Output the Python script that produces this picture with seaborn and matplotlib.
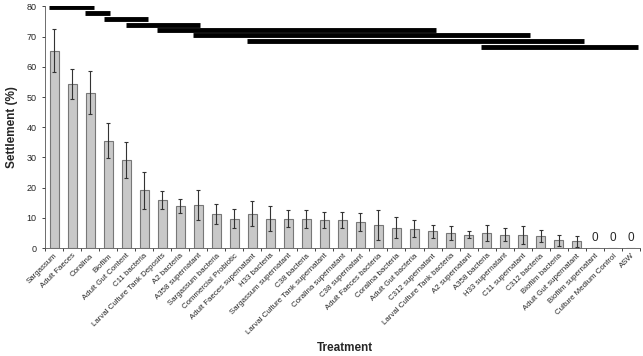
import numpy as np
import pandas as pd
import matplotlib
matplotlib.use("Agg")
import matplotlib.pyplot as plt
import seaborn as sns

# data
treatments = ["Sargassum", "Adult Faeces", "Coralina", "Biofilm", "Adult Gut Content",
              "C11 bacteria", "Larval Culture Tank Deposits", "A2 bacteria", "A358 supernatant",
              "Sargassum bacteria", "Commercial Probiotic", "Adult Faeces supernatant",
              "H33 bacteria", "Sargassum supernatant", "C38 bacteria",
              "Larval Culture Tank supernatant", "Coralina supernatant", "C38 supernatant",
              "Adult Faeces bacteria", "Coralina bacteria", "Adult Gut bacteria",
              "C312 supernatant", "Larval Culture Tank bacteria", "A2 supernatant",
              "A358 bacteria", "H33 supernatant", "C11 supernatant", "C312 bacteria",
              "Biofilm bacteria", "Adult Gut supernatant", "Biofilm supernatant",
              "Culture Medium Control", "ASW"]
settlement = [65.4, 54.3, 51.4, 35.6, 29.2, 19.1, 15.9, 14.0, 14.2, 11.4, 9.8, 11.4,
              9.8, 9.7, 9.5, 9.3, 9.2, 8.6, 7.6, 6.8, 6.4, 5.6, 5.0, 4.5, 5.0, 4.5,
              4.3, 4.1, 2.6, 2.2, 0, 0, 0]
sem = [7.0, 5.0, 7.1, 5.7, 6.0, 6.1, 3.1, 2.4, 4.9, 3.3, 3.0, 4.2, 4.2, 2.8, 3.0, 2.8,
       2.6, 2.9, 4.9, 3.4, 2.8, 2.2, 2.2, 1.3, 2.5, 2.2, 2.9, 2.0, 1.9, 1.7, 0, 0, 0]

# groups not significantly different (start / end in category units, height)
group_start = [-0.3, 1.7, 2.8, 4.0, 5.7, 7.7, 10.7, 23.7]
group_end = [2.2, 3.1, 5.2, 8.1, 21.2, 26.4, 29.4, 32.4]
group_y = [79.7, 77.7, 75.9, 74.0, 72.2, 70.4, 68.5, 66.6]

df = pd.DataFrame({"Treatment": treatments, "Settlement": settlement, "sem": sem})

sns.set_style("ticks")
plt.rcParams["font.family"] = ["Liberation Sans", "DejaVu Sans"]

fig = plt.figure(figsize=(6.43, 3.56), dpi=100)
ax = fig.add_axes([0.070, 0.303, 0.925, 0.679])

sns.barplot(data=df, x="Treatment", y="Settlement", color="#c8c8c8",
            edgecolor="#777777", linewidth=0.8, width=0.5, saturation=1, ax=ax)

x = np.arange(len(treatments))
nz = df["Settlement"] > 0
ax.errorbar(x[nz], df["Settlement"][nz], yerr=df["sem"][nz], fmt="none",
            ecolor="#333333", elinewidth=0.8, capsize=1.5, capthick=0.8)

for xi, v in zip(x[~nz], df["Settlement"][~nz]):
    ax.text(xi, v + 1.5, "0", ha="center", va="bottom", fontsize=8.5)

ax.hlines(group_y, group_start, group_end, colors="black", linewidth=3.5)

ax.set_ylim(0, 80)
ax.set_xlim(-0.5, len(treatments) - 0.5)
ax.set_yticks(range(0, 81, 10))
ax.tick_params(axis="y", labelsize=6.5, length=2.5, width=0.6)
ax.set_xticks(x)
ax.set_xticklabels(treatments, rotation=45, ha="right", rotation_mode="anchor",
                   fontsize=5.7)
ax.tick_params(axis="x", which="major", length=0, pad=3)
ax.set_xticks(np.arange(-0.5, len(treatments), 1), minor=True)
ax.tick_params(axis="x", which="minor", length=2.5, width=0.6)
sns.despine(ax=ax)
for s in ["left", "bottom"]:
    ax.spines[s].set_linewidth(0.6)
    ax.spines[s].set_color("#555555")

ax.set_ylabel("Settlement (%)", fontsize=8.5, fontweight="bold", labelpad=6)
ax.set_xlabel("")
fig.text(0.537, 0.005, "Treatment", ha="center", va="bottom", fontsize=8.5,
         fontweight="bold")

fig.savefig("out.png", dpi=100)
